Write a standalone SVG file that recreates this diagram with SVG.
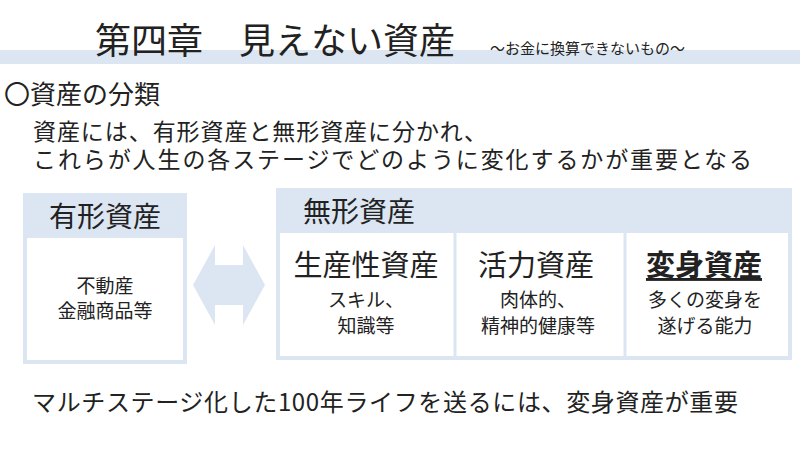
<svg xmlns="http://www.w3.org/2000/svg" width="800" height="450" viewBox="0 0 800 450">
<style>
text{font-family:"Noto Sans CJK JP","Noto Sans",sans-serif;fill:#222}
.hd{fill:#dce6f2}
.bx{fill:#fff;stroke:#dce6f2;stroke-width:4}
</style>
<rect width="800" height="450" fill="#fff"/>
<rect x="0" y="50" width="800" height="14" fill="#dce6f2"/>
<text x="95" y="54" font-size="36">第四章　見えない資産</text>
<text x="490" y="54" font-size="15">～お金に換算できないもの～</text>
<text x="4" y="104" font-size="26">〇資産の分類</text>
<text x="33" y="140" font-size="23" textLength="454" lengthAdjust="spacing">資産には、有形資産と無形資産に分かれ、</text>
<text x="33" y="168" font-size="23" textLength="719" lengthAdjust="spacing">これらが人生の各ステージでどのように変化するかが重要となる</text>
<g id="tangible">
<rect class="bx" x="25" y="195" width="160" height="167"/>
<rect class="hd" x="25" y="195" width="160" height="43"/>
<text x="105" y="227" font-size="28" text-anchor="middle" fill="#555">有形資産</text>
<text x="105" y="293" font-size="19" text-anchor="middle">不動産</text>
<text x="105" y="318" font-size="19" text-anchor="middle">金融商品等</text>
</g>
<g id="connectors">
<polygon points="193,285 215,245 215,265 243,265 243,245 265,285 243,325 243,305 215,305 215,325" fill="#dce6f2"/>
</g>
<g id="intangible">
<rect class="bx" x="278" y="190" width="512" height="168"/>
<rect class="hd" x="278" y="190" width="512" height="43"/>
<text x="303" y="222" font-size="28" fill="#555">無形資産</text>
<line x1="455" y1="233" x2="455" y2="358" stroke="#dce6f2" stroke-width="3"/>
<line x1="625" y1="233" x2="625" y2="358" stroke="#dce6f2" stroke-width="3"/>
</g>
<g id="productive">
<text x="366" y="276" font-size="29" text-anchor="middle">生産性資産</text>
<text x="366" y="307" font-size="19" text-anchor="middle">スキル、</text>
<text x="366" y="333" font-size="19" text-anchor="middle">知識等</text>
</g>
<g id="vitality">
<text x="536" y="276" font-size="29" text-anchor="middle">活力資産</text>
<text x="538" y="307" font-size="19" text-anchor="middle">肉体的、</text>
<text x="538" y="333" font-size="19" text-anchor="middle">精神的健康等</text>
</g>
<g id="transform">
<text x="704" y="276" font-size="29" font-weight="bold" text-anchor="middle" text-decoration="underline">変身資産</text>
<text x="705" y="307" font-size="19" text-anchor="middle">多くの変身を</text>
<text x="705" y="333" font-size="19" text-anchor="middle">遂げる能力</text>
</g>
<text x="32" y="411" font-size="24" textLength="706" lengthAdjust="spacing">マルチステージ化した100年ライフを送るには、変身資産が重要</text>
</svg>
